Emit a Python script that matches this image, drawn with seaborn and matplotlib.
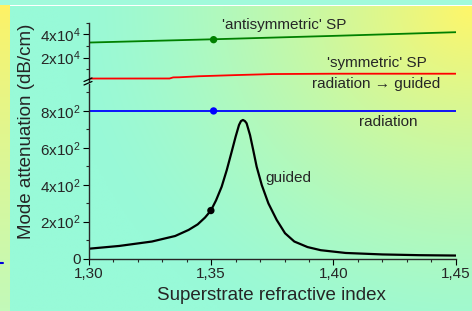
import numpy as np
import pandas as pd
import seaborn as sns
import matplotlib.pyplot as plt
from matplotlib.ticker import FixedLocator, MultipleLocator
from matplotlib.lines import Line2D

# data
n_guided = [1.300, 1.3124, 1.3258, 1.3353, 1.3408, 1.3445, 1.3475, 1.3499, 1.3520,
            1.3543, 1.3564, 1.3584, 1.3600, 1.3614, 1.3622, 1.3630, 1.3638, 1.3645,
            1.3659, 1.3672, 1.3686, 1.3707, 1.3734, 1.3768, 1.3802, 1.3840, 1.3894,
            1.3948, 1.405, 1.42, 1.435, 1.45]
att_guided = [53, 68, 92, 122, 155, 185, 222, 260, 315, 389, 480, 579, 660, 724,
              745, 751, 745, 733, 669, 588, 498, 398, 299, 209, 137, 92, 62, 45,
              30, 22, 18, 16]

n_rad = [1.30, 1.45]
att_rad = [800, 800]

n_sym = [1.30, 1.333, 1.3345, 1.337, 1.345, 1.36, 1.375, 1.40, 1.45]
att_sym = [1700, 1750, 2700, 2800, 3700, 4700, 5600, 5900, 5900]

n_anti = [1.30, 1.35, 1.40, 1.45]
att_anti = [33000, 35800, 38800, 42000]

dots_n = [1.351, 1.351, 1.3499]
dots_att = [35500, 800, 260]

upper_ticks = [2e4, 4e4]
upper_labels = ['2x10$^4$', '4x10$^4$']
lower_ticks = [0, 200, 400, 600, 800]
lower_labels = ['0', '2x10$^2$', '4x10$^2$', '6x10$^2$', '8x10$^2$']
x_ticks = [1.30, 1.35, 1.40, 1.45]
x_labels = ['1,30', '1,35', '1,40', '1,45']

sns.set_style("ticks")
plt.rcParams['font.family'] = ['Liberation Sans', 'DejaVu Sans']
plt.rcParams['mathtext.default'] = 'regular'

W, H = 472, 311
fig = plt.figure(figsize=(W / 100, H / 100), dpi=100)
fig.patch.set_facecolor('white')

def fx(px):
    return px / W

def fy(py):
    return 1 - py / H

# background gradient panel (yellow at top right, aquamarine elsewhere)
bg = fig.add_axes([fx(10), 0, 1 - fx(10), fy(6)], zorder=-10)
gx, gy = np.meshgrid(np.linspace(0, 1, 200), np.linspace(0, 1, 130))
dist = np.sqrt(((1 - gx) * 1.4) ** 2 + (gy * 1.0) ** 2)
t = np.clip(1 - dist / 1.25, 0, 1) ** 1.5
aqua = np.array([152, 250, 216]) / 255
yellow = np.array([255, 246, 105]) / 255
img = aqua[None, None, :] + (yellow - aqua)[None, None, :] * t[..., None]
bg.imshow(img, aspect='auto', extent=[0, 1, 0, 1], origin='upper')
bg.set_axis_off()

# left strip
ls = fig.add_axes([0, 0, fx(10), fy(5)], zorder=-10)
sy = np.linspace(0, 1, 100)[:, None, None]
ltop = np.array([255, 242, 100]) / 255
lbot = np.array([195, 250, 185]) / 255
ls.imshow(ltop + (lbot - ltop) * sy ** 0.8, aspect='auto', extent=[0, 1, 0, 1])
ls.set_axis_off()

# top strip
ts = fig.add_axes([0, fy(4.5), 1, 4.5 / H], zorder=-10)
ts.set_facecolor((0.63, 0.98, 0.86))
ts.set_xticks([])
ts.set_yticks([])
for s in ts.spines.values():
    s.set_visible(False)
fig.add_artist(Line2D([0, fx(3)], [fy(263), fy(263)], color='#0000dd', lw=1.5))

left = fx(88.8)
width = fx(455.8) - left
ax_top = fig.add_axes([left, fy(80.5), width, fy(23) - fy(80.5)])
ax_bot = fig.add_axes([left, fy(258.5), width, fy(84) - fy(258.5)])

for ax in (ax_top, ax_bot):
    ax.patch.set_alpha(0)
    sns.despine(ax=ax)
    ax.spines['left'].set_linewidth(1)
    ax.spines['bottom'].set_linewidth(1)
    ax.set_xlim(1.30, 1.45)
    ax.tick_params(which='major', direction='out', length=4, width=0.8,
                   labelsize=11, color='black', pad=2)
    ax.tick_params(which='minor', direction='out', length=2.5, width=0.8)
    ax.set_xlabel('')
    ax.set_ylabel('')

sns.lineplot(x=n_anti, y=att_anti, ax=ax_top, color='#008000', lw=1.3)
sns.lineplot(x=n_sym, y=att_sym, ax=ax_top, color='#ff0000', lw=1.3)
sns.scatterplot(x=dots_n[:1], y=dots_att[:1], ax=ax_top, color='#008000', s=28,
                edgecolor='none', zorder=5)
ax_top.set_ylim(0, 5e4)
ax_top.spines['bottom'].set_visible(False)
ax_top.tick_params(axis='x', which='both', bottom=False, labelbottom=False)
ax_top.yaxis.set_major_locator(FixedLocator(upper_ticks))
ax_top.set_yticklabels(upper_labels)
ax_top.yaxis.set_minor_locator(FixedLocator([1e4, 3e4, 5e4]))

sns.lineplot(x=n_rad, y=att_rad, ax=ax_bot, color='#0000ff', lw=1.3)
sns.lineplot(x=n_guided, y=att_guided, ax=ax_bot, color='black', lw=1.6)
sns.scatterplot(x=dots_n[1:2], y=dots_att[1:2], ax=ax_bot, color='#0000ff', s=28,
                edgecolor='none', zorder=5)
sns.scatterplot(x=dots_n[2:], y=dots_att[2:], ax=ax_bot, color='black', s=28,
                edgecolor='none', zorder=5)
ax_bot.set_ylim(0, 946)
ax_bot.yaxis.set_major_locator(FixedLocator(lower_ticks))
ax_bot.set_yticklabels(lower_labels)
ax_bot.yaxis.set_minor_locator(MultipleLocator(100))
ax_bot.xaxis.set_major_locator(FixedLocator(x_ticks))
ax_bot.set_xticklabels(x_labels)
ax_bot.xaxis.set_minor_locator(MultipleLocator(0.01))

# axis break marks
for y0 in (81.5, 85):
    fig.add_artist(Line2D([fx(84), fx(92)], [fy(y0), fy(y0 - 3.5)], color='black', lw=0.9))

ax_top.text(1.3798, 48000, "'antisymmetric' SP", ha='center', va='center', fontsize=11)
ax_top.text(1.4178, 15500, "'symmetric' SP", ha='center', va='center', fontsize=11)
ax_bot.text(1.4174, 946, "radiation \u2192 guided", ha='center', va='center', fontsize=11)
ax_bot.text(1.4223, 740, "radiation", ha='center', va='center', fontsize=11)
ax_bot.text(1.372, 437, "guided", ha='left', va='center', fontsize=11)

fig.text(fx(27), fy(131), 'Mode attenuation (dB/cm)', rotation=90, ha='center',
         va='center', fontsize=13.5)
fig.text(fx(271), fy(296), 'Superstrate refractive index', ha='center',
         va='center', fontsize=13.5)

fig.savefig('out.png', dpi=100)
